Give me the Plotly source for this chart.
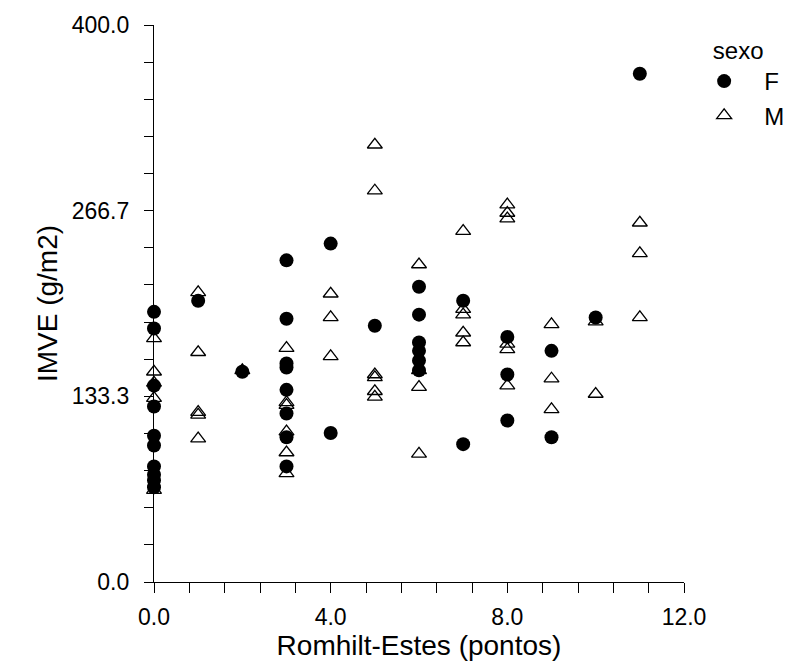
import plotly.graph_objects as go

# IMVE (g/m2) by Romhilt-Estes score, split by sex
f_x = [0, 0, 0, 0, 0, 0, 0, 0, 0, 0,
       1, 2,
       3, 3, 3, 3, 3, 3, 3, 3,
       4, 4, 5,
       6, 6, 6, 6, 6, 6,
       7, 7, 8, 8, 8, 9, 9, 10, 11]
f_y = [194, 182, 141, 126, 105, 98, 83, 77, 73, 68,
       202, 151,
       231, 189, 157, 154, 138, 121, 104, 83,
       243, 107, 184,
       212, 192, 172, 166, 159, 152,
       202, 99, 176, 149, 116, 166, 104, 190, 365]

m_x = [0, 0, 0, 0, 0,
       1, 1, 1, 1, 1,
       2,
       3, 3, 3, 3, 3, 3,
       4, 4, 4,
       5, 5, 5, 5, 5, 5,
       6, 6, 6, 6,
       7, 7, 7, 7, 7,
       8, 8, 8, 8, 8, 8,
       9, 9, 9,
       10, 10,
       11, 11, 11]
m_y = [175, 151, 143, 132, 66,
       208, 165, 122, 120, 103,
       152,
       168, 129, 127, 108, 93, 78,
       207, 190, 162,
       314, 281, 149, 147, 137, 133,
       228, 152, 140, 92,
       252, 196, 192, 179, 172,
       271, 265, 261, 171, 167, 141,
       185, 146, 124,
       187, 135,
       258, 236, 190]

x_ticks = [0, 4, 8, 12]
x_labels = ["0.0", "4.0", "8.0", "12.0"]
y_ticks = [0, 400 / 3, 800 / 3, 400]
y_labels = ["0.0", "133.3", "266.7", "400.0"]

FONT = "Liberation Sans, Arial, sans-serif"
PAD = "\u00a0\u00a0\u00a0"  # gap between legend symbol and label

fig = go.Figure()
fig.add_trace(go.Scatter(
    x=m_x, y=m_y, mode="markers", name=PAD + "M", legendrank=2,
    cliponaxis=False,
    marker=dict(symbol="triangle-up-open", size=13, color="black",
                line=dict(color="black", width=1.3)),
))
fig.add_trace(go.Scatter(
    x=f_x, y=f_y, mode="markers", name=PAD + "F", legendrank=1,
    cliponaxis=False,
    marker=dict(symbol="circle", size=14, color="black",
                line=dict(width=0)),
))

fig.update_layout(
    width=787, height=666,
    margin=dict(l=154, r=103, t=25, b=84, autoexpand=False),
    paper_bgcolor="white", plot_bgcolor="white",
    font=dict(family=FONT, color="black"),
    showlegend=True,
    legend=dict(
        title=dict(text="\u00a0sexo", font=dict(size=24)),
        font=dict(size=24),
        x=1.038, y=0.995, xanchor="left", yanchor="top",
        tracegroupgap=0, itemsizing="trace",
        bgcolor="rgba(0,0,0,0)",
    ),
)

fig.update_xaxes(
    range=[0, 12], showgrid=False, zeroline=False,
    showline=True, linecolor="black", linewidth=1.3,
    tickmode="array", tickvals=x_ticks, ticktext=x_labels,
    ticks="outside", ticklen=10, tickwidth=1.3, tickcolor="black",
    tickfont=dict(size=23), ticklabelstandoff=4,
    minor=dict(tick0=0, dtick=0.8, ticks="outside", ticklen=10,
               tickwidth=1.3, tickcolor="black", showgrid=False),
    title=dict(text="Romhilt-Estes (pontos)", font=dict(size=28), standoff=2),
)
fig.update_yaxes(
    range=[0, 400], showgrid=False, zeroline=False,
    showline=True, linecolor="black", linewidth=1.3,
    tickmode="array", tickvals=y_ticks, ticktext=y_labels,
    ticks="outside", ticklen=9, tickwidth=1.3, tickcolor="black",
    tickfont=dict(size=23), ticklabelstandoff=10,
    minor=dict(tick0=0, dtick=400 / 15, ticks="outside", ticklen=9,
               tickwidth=1.3, tickcolor="black", showgrid=False),
    title=dict(text="IMVE (g/m2)", font=dict(size=28), standoff=5),
)

fig.write_html("out.html")
